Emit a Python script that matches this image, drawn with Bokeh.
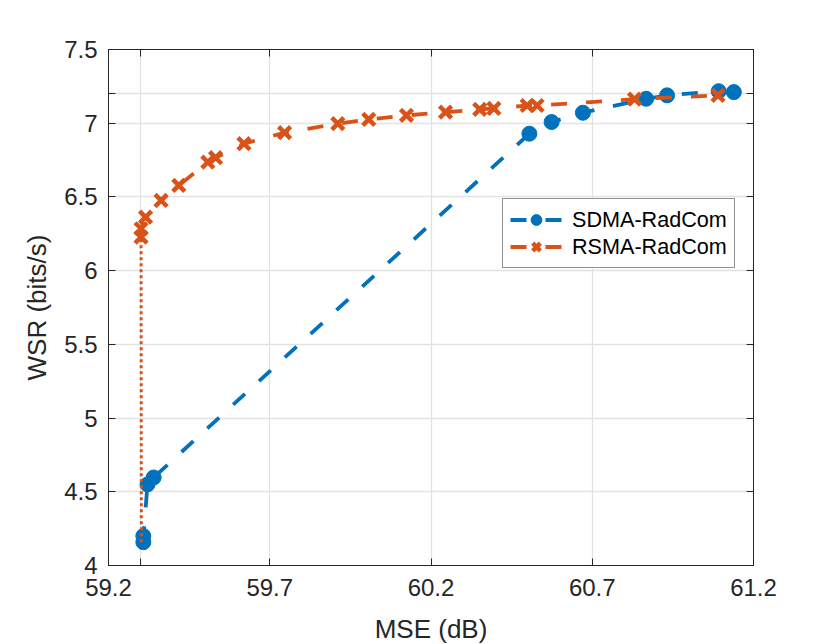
from bokeh.plotting import figure
from bokeh.models import (Range1d, FixedTicker, LinearAxis, CustomJSTickFormatter,
                          Legend, LegendItem)
from bokeh.embed import file_html
from bokeh.resources import INLINE

# ---- data ----
sdma_mse = [59.308, 59.308, 59.321, 59.340, 60.505, 60.574, 60.671, 60.867, 60.932, 61.092, 61.139]
sdma_wsr = [4.158, 4.200, 4.550, 4.597, 6.929, 7.008, 7.071, 7.166, 7.189, 7.217, 7.211]

rsma_mse = [59.301, 59.301, 59.315, 59.363, 59.418, 59.508, 59.532, 59.620, 59.746, 59.911,
            60.007, 60.124, 60.245, 60.351, 60.395, 60.498, 60.529, 60.831, 61.090]
rsma_wsr = [6.227, 6.284, 6.363, 6.476, 6.578, 6.736, 6.766, 6.861, 6.936, 6.997,
            7.026, 7.053, 7.075, 7.094, 7.100, 7.120, 7.120, 7.163, 7.189]

drop_mse = [59.302, 59.301]
drop_wsr = [4.158, 6.227]

x_tick_values = [59.2, 59.3, 59.7, 60.2, 60.7, 61.2]
x_tick_labels = ["59.2", "", "59.7", "60.2", "60.7", "61.2"]
y_tick_values = [4.0, 4.5, 5.0, 5.5, 6.0, 6.5, 7.0, 7.2, 7.5]
y_tick_labels = ["4", "4.5", "5", "5.5", "6", "6.5", "7", "", "7.5"]

BLUE = "#0072BD"
RED = "#D95319"
INK = "#262626"
FONT = "Liberation Sans"

p = figure(width=830, height=644, output_backend="svg", toolbar_location=None,
           x_range=Range1d(59.2, 61.2), y_range=Range1d(4.0, 7.5),
           frame_width=645, frame_height=516,
           min_border_left=108, min_border_right=77, min_border_top=49, min_border_bottom=79)
p.background_fill_color = "white"
p.border_fill_color = "white"
p.outline_line_color = INK
p.outline_line_width = 1

fmt_code = """
for (let i = 0; i < vals.length; i++) {
  if (Math.abs(tick - vals[i]) < 1e-9) return labs[i];
}
return '';
"""
xfmt = CustomJSTickFormatter(args=dict(vals=x_tick_values, labs=x_tick_labels), code=fmt_code)
yfmt = CustomJSTickFormatter(args=dict(vals=y_tick_values, labs=y_tick_labels), code=fmt_code)
blankfmt = CustomJSTickFormatter(code="return '';")
xticker = FixedTicker(ticks=x_tick_values, minor_ticks=[])
yticker = FixedTicker(ticks=y_tick_values, minor_ticks=[])


def style_axis(ax):
    ax.axis_line_color = INK
    ax.axis_line_width = 1
    ax.major_tick_line_color = INK
    ax.major_tick_line_width = 1
    ax.major_tick_in = 7
    ax.major_tick_out = 0
    ax.minor_tick_line_color = None
    ax.major_label_text_font = FONT
    ax.major_label_text_color = INK
    ax.major_label_text_font_size = "24px"
    ax.axis_label_text_font = FONT
    ax.axis_label_text_font_size = "26px"
    ax.axis_label_text_font_style = "normal"
    ax.axis_label_text_color = INK


p.xaxis.ticker = xticker
p.xaxis.formatter = xfmt
p.yaxis.ticker = yticker
p.yaxis.formatter = yfmt
style_axis(p.xaxis[0])
style_axis(p.yaxis[0])
p.xaxis.axis_label = "MSE (dB)"
p.yaxis.axis_label = "WSR (bits/s)"
p.xaxis.major_label_standoff = 13
p.xaxis.axis_label_standoff = 15
p.yaxis.major_label_standoff = 11
p.yaxis.axis_label_standoff = 9

top_ax = LinearAxis(ticker=xticker, formatter=blankfmt)
right_ax = LinearAxis(ticker=yticker, formatter=blankfmt)
style_axis(top_ax)
style_axis(right_ax)
top_ax.major_label_standoff = 0
right_ax.major_label_standoff = 0
p.add_layout(top_ax, "above")
p.add_layout(right_ax, "right")

p.xgrid.ticker = xticker
p.ygrid.ticker = yticker
p.xgrid.grid_line_color = "#E2E2E2"
p.ygrid.grid_line_color = "#E2E2E2"
p.xgrid.grid_line_width = 1.3
p.ygrid.grid_line_width = 1.3

r_sd_line = p.line(sdma_mse, sdma_wsr, line_color=BLUE, line_width=3.8, line_dash="16 19")
r_sd_pts = p.scatter(sdma_mse, sdma_wsr, marker="circle", size=15,
                     fill_color=BLUE, line_color=BLUE)
r_rs_line = p.line(rsma_mse, rsma_wsr, line_color=RED, line_width=3.8, line_dash="16 19")
r_rs_pts = p.scatter(rsma_mse, rsma_wsr, marker="x", size=17,
                     line_color=RED, line_width=4.5)
r_drop = p.line(drop_mse, drop_wsr, line_color=RED, line_width=3, line_dash="3 3")

legend = Legend(items=[
    LegendItem(label="SDMA-RadCom", renderers=[r_sd_line, r_sd_pts]),
    LegendItem(label="RSMA-RadCom", renderers=[r_rs_line, r_rs_pts]),
], location=(394, 297))
legend.border_line_color = INK
legend.border_line_width = 1
legend.background_fill_color = "white"
legend.background_fill_alpha = 1
legend.label_text_font = FONT
legend.label_text_font_size = "21.6px"
legend.label_text_color = "black"
legend.padding = 7
legend.spacing = 0
legend.glyph_width = 52
legend.glyph_height = 27
legend.label_standoff = 10
legend.margin = 0
p.add_layout(legend)

open("out.html", "w").write(file_html(p, INLINE))
